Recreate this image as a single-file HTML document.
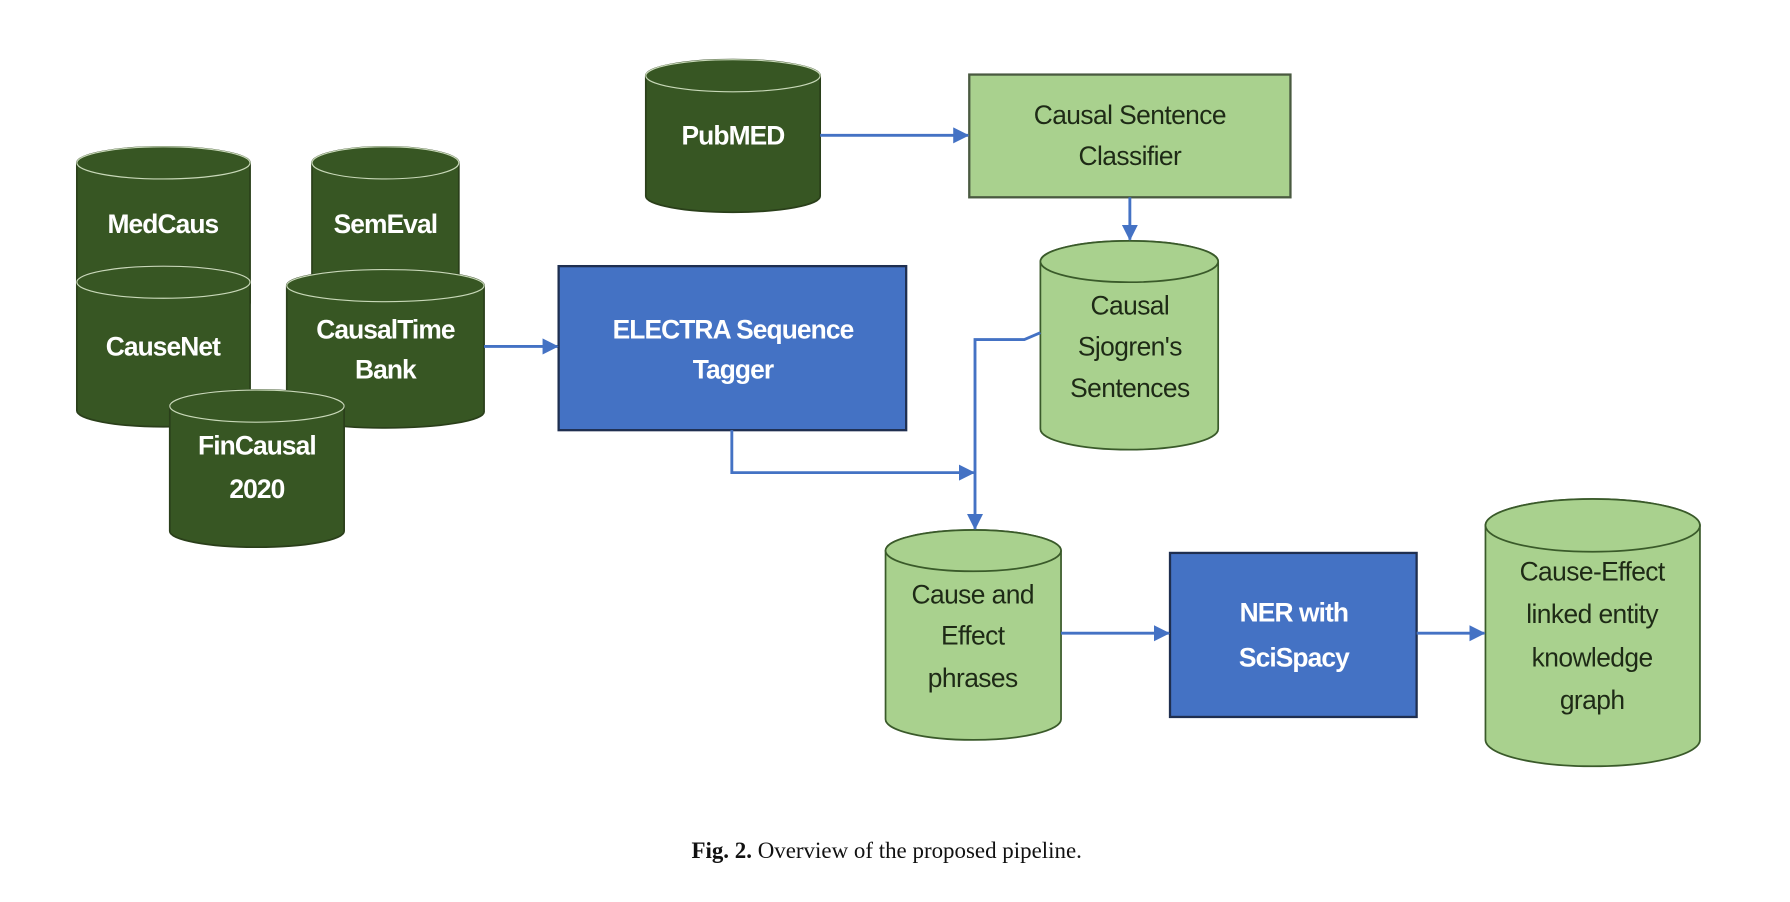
<!DOCTYPE html>
<html><head><meta charset="utf-8"><style>
html,body{margin:0;padding:0;background:#fff;}
svg{display:block;}
.s{font-family:"Liberation Sans",sans-serif;}
</style></head><body>
<svg width="1790" height="902" viewBox="0 0 1560.5 786.3" preserveAspectRatio="none" xmlns="http://www.w3.org/2000/svg">
<defs>
<marker id="ar" markerWidth="14" markerHeight="14" refX="13" refY="7" orient="auto" markerUnits="userSpaceOnUse">
<path d="M0,0 L14,7 L0,14 Z" fill="#4472c4"/></marker>
</defs>
<g stroke="#2a3f1a" stroke-width="1.5">
<path d="M67,142 A75.5,14 0 0 1 218,142 V264 A75.5,14 0 0 1 67,264 Z" fill="#375623"/>
<ellipse cx="142.5" cy="142" rx="75.5" ry="14" fill="#375623" stroke="#c8d8b8" stroke-width="1"/>
<path d="M272,142 A64,14 0 0 1 400,142 V250 A64,14 0 0 1 272,250 Z" fill="#375623"/>
<ellipse cx="336" cy="142" rx="64" ry="14" fill="#375623" stroke="#c8d8b8" stroke-width="1"/>
<path d="M67,246 A75.5,14 0 0 1 218,246 V358 A75.5,14 0 0 1 67,358 Z" fill="#375623"/>
<ellipse cx="142.5" cy="246" rx="75.5" ry="14" fill="#375623" stroke="#c8d8b8" stroke-width="1"/>
<path d="M250,249 A86,14 0 0 1 422,249 V359 A86,14 0 0 1 250,359 Z" fill="#375623"/>
<ellipse cx="336" cy="249" rx="86" ry="14" fill="#375623" stroke="#c8d8b8" stroke-width="1"/>
<path d="M148,354 A76,14 0 0 1 300,354 V463 A76,14 0 0 1 148,463 Z" fill="#375623"/>
<ellipse cx="224" cy="354" rx="76" ry="14" fill="#375623" stroke="#c8d8b8" stroke-width="1"/>
<path d="M563,66 A76,14 0 0 1 715,66 V171 A76,14 0 0 1 563,171 Z" fill="#375623"/>
<ellipse cx="639" cy="66" rx="76" ry="14" fill="#375623" stroke="#c8d8b8" stroke-width="1"/>
</g>
<g stroke="#3a5a2a" stroke-width="1.5" fill="#a9d18e">
<rect x="845" y="65" width="280" height="107" stroke="#4a5a40" stroke-width="2"/>
<path d="M907,228 A77.5,18 0 0 1 1062,228 V374 A77.5,18 0 0 1 907,374 Z"/>
<ellipse cx="984.5" cy="228" rx="77.5" ry="18"/>
<path d="M772,480 A76.5,18 0 0 1 925,480 V627 A76.5,18 0 0 1 772,627 Z"/>
<ellipse cx="848.5" cy="480" rx="76.5" ry="18"/>
<path d="M1295,458 A93.5,23 0 0 1 1482,458 V645 A93.5,23 0 0 1 1295,645 Z"/>
<ellipse cx="1388.5" cy="458" rx="93.5" ry="23"/>
</g>
<rect x="487" y="232" width="303" height="143" fill="#4472c4" stroke="#1f2f50" stroke-width="2"/>
<rect x="1020" y="482" width="215" height="143" fill="#4472c4" stroke="#1f2f50" stroke-width="2"/>
<g stroke="#4472c4" stroke-width="2.5" fill="none">
<line x1="715" y1="118" x2="844" y2="118" marker-end="url(#ar)"/>
<line x1="985" y1="172" x2="985" y2="209" marker-end="url(#ar)"/>
<line x1="422" y1="302" x2="486" y2="302" marker-end="url(#ar)"/>
<polyline points="638,375 638,412 849,412" marker-end="url(#ar)"/>
<polyline points="907,290 893,296 850,296 850,461" marker-end="url(#ar)"/>
<line x1="925" y1="552" x2="1019" y2="552" marker-end="url(#ar)"/>
<line x1="1235" y1="552" x2="1294" y2="552" marker-end="url(#ar)"/>
</g>
<g class="s" fill="#fff" font-size="23" font-weight="bold" text-anchor="middle" letter-spacing="-0.8">
<text x="142" y="203">MedCaus</text>
<text x="336" y="203">SemEval</text>
<text x="142" y="310">CauseNet</text>
<text x="336" y="295">CausalTime</text>
<text x="336" y="330">Bank</text>
<text x="224" y="396">FinCausal</text>
<text x="224" y="434">2020</text>
<text x="639" y="126">PubMED</text>
<text x="639" y="295">ELECTRA Sequence</text>
<text x="639" y="330">Tagger</text>
<text x="1128" y="542">NER with</text>
<text x="1128" y="581">SciSpacy</text>
</g>
<g class="s" fill="#1e2a16" font-size="23" text-anchor="middle" letter-spacing="-0.5">
<text x="985" y="108">Causal Sentence</text>
<text x="985" y="144">Classifier</text>
<text x="985" y="274">Causal</text>
<text x="985" y="310">Sjogren's</text>
<text x="985" y="346">Sentences</text>
<text x="848" y="526">Cause and</text>
<text x="848" y="562">Effect</text>
<text x="848" y="599">phrases</text>
<text x="1388" y="506">Cause-Effect</text>
<text x="1388" y="543">linked entity</text>
<text x="1388" y="581">knowledge</text>
<text x="1388" y="618">graph</text>
</g>
<text x="773" y="748" style="font-family:'Liberation Serif',serif" font-size="20" text-anchor="middle" fill="#111"><tspan font-weight="bold">Fig. 2.</tspan> Overview of the proposed pipeline.</text>
</svg>
</body></html>
